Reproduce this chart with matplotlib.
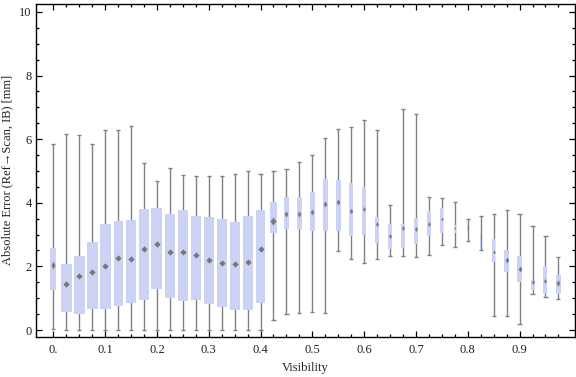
import matplotlib
matplotlib.use("Agg")
import matplotlib.pyplot as plt
import numpy as np

plt.rcParams['font.family'] = ['Liberation Serif', 'DejaVu Serif']

# visibility bins (bin start values)
visibility = [0.0, 0.025, 0.05, 0.075, 0.1, 0.125, 0.15, 0.175, 0.2, 0.225,
              0.25, 0.275, 0.3, 0.325, 0.35, 0.375, 0.4, 0.425, 0.45, 0.475,
              0.5, 0.525, 0.55, 0.575, 0.6, 0.625, 0.65, 0.675, 0.7, 0.725,
              0.75, 0.775, 0.8, 0.825, 0.85, 0.875, 0.9, 0.925, 0.95, 0.975]

# box-whisker statistics [mm]
whisker_hi = [5.84, 6.15, 6.12, 5.84, 6.28, 6.28, 6.40, 5.24, 4.67, 5.08,
              4.88, 4.83, 4.83, 4.85, 4.90, 4.99, 4.90, 4.99, 5.05, 5.28,
              5.49, 6.03, 6.31, 6.37, 6.59, 6.28, 3.92, 6.94, 6.78, 4.17,
              4.14, 4.03, 3.49, 3.57, 3.65, 3.77, 3.64, 3.26, 2.95, 2.30]
q3 = [2.58, 2.08, 2.33, 2.77, 3.33, 3.43, 3.46, 3.80, 3.83, 3.65,
      3.77, 3.58, 3.55, 3.49, 3.40, 3.58, 3.77, 4.03, 4.18, 4.18,
      4.34, 4.75, 4.72, 4.62, 4.50, 3.55, 3.33, 3.33, 3.52, 3.74,
      3.84, 3.30, 3.36, 3.06, 2.85, 2.52, 2.33, 1.56, 2.01, 1.73]
median = [2.04, 1.46, 1.69, 1.82, 2.01, 2.26, 2.24, 2.54, 2.69, 2.46,
          2.44, 2.35, 2.21, 2.11, 2.06, 2.15, 2.55, 3.42, 3.64, 3.64,
          3.70, 3.95, 4.01, 3.74, 3.82, 3.32, 2.96, 3.20, 3.18, 3.34,
          3.49, 3.20, 3.22, 2.93, 2.46, 2.21, 1.92, 1.51, 1.53, 1.47]
q1 = [1.27, 0.58, 0.51, 0.66, 0.66, 0.77, 0.86, 0.94, 1.29, 1.02,
      0.91, 0.94, 0.83, 0.73, 0.64, 0.64, 0.86, 3.06, 3.19, 3.19,
      3.12, 3.12, 3.10, 2.95, 2.99, 2.75, 2.56, 2.59, 2.71, 2.97,
      3.04, 3.06, 3.08, 2.51, 2.14, 1.82, 1.52, 1.27, 1.14, 1.14]
whisker_lo = [0.02, 0.0, 0.0, 0.0, 0.0, 0.0, 0.0, 0.0, 0.0, 0.0,
              0.0, 0.0, 0.0, 0.0, 0.0, 0.0, 0.0, 0.30, 0.50, 0.53,
              0.57, 0.53, 2.47, 2.22, 2.10, 2.22, 2.32, 2.32, 2.29, 2.35,
              2.66, 2.62, 2.81, 2.51, 0.45, 0.43, 0.18, 1.12, 1.03, 0.97]
# relative box width (fraction of bin spacing), grows with sample count
rel_width = [0.46, 0.85, 0.85, 0.85, 0.85, 0.70, 0.70, 0.77, 0.85, 0.77,
             0.77, 0.77, 0.77, 0.77, 0.77, 0.77, 0.70, 0.54, 0.39, 0.39,
             0.39, 0.39, 0.39, 0.35, 0.31, 0.31, 0.31, 0.31, 0.31, 0.31,
             0.23, 0.15, 0.08, 0.08, 0.25, 0.39, 0.39, 0.31, 0.31, 0.39]

step = 0.025
box_color = '#cbd2f4'
line_color = '#808080'

fig = plt.figure(figsize=(5.76, 3.77), dpi=100)
ax = fig.add_axes([36 / 576, 1 - 337 / 377, 539 / 576, 333 / 377])

x = np.array(visibility)
w = np.array(rel_width) * step
lo = np.array(whisker_lo)
hi = np.array(whisker_hi)

ax.vlines(x, lo, hi, color=line_color, lw=1.0, zorder=1)
ax.hlines(hi, x - 0.004, x + 0.004, color=line_color, lw=1.0, zorder=1)
ax.hlines(lo, x - 0.004, x + 0.004, color=line_color, lw=1.0, zorder=1)
ax.bar(x, np.array(q3) - np.array(q1), bottom=q1, width=w,
       color=box_color, edgecolor='none', zorder=2)

for xi, mi, ri in zip(x, median, rel_width):
    if ri >= 0.6:
        ax.plot(xi, mi, marker='D', ms=3.2, color='#777777', mec='none', zorder=3)
    else:
        ax.plot(xi, mi, marker='d', ms=max(1.5, ri * 8), color='#7a7a7a',
                mec='none', zorder=3)

ax.set_xlim(-0.0334, 1.007)
ax.set_ylim(-0.22, 10.25)

ax.set_xticks(np.arange(0, 10) / 10)
ax.set_xticklabels(['0.'] + ['%.1f' % v for v in np.arange(1, 10) / 10])
ax.set_xticks(x, minor=True)
ax.set_yticks([0, 2, 4, 6, 8, 10])
ax.set_yticks(np.arange(0, 10.5, 0.5), minor=True)

ax.tick_params(which='both', direction='in', top=True, right=True,
               width=0.9, colors='black', labelcolor='#222222', labelsize=9)
ax.tick_params(which='major', length=4.0)
ax.tick_params(which='minor', length=2.5)
ax.tick_params(axis='x', pad=5)
ax.tick_params(axis='y', pad=3)

for sp in ax.spines.values():
    sp.set_linewidth(1.0)
    sp.set_color('black')

fig.text(305 / 576, 1 - 368 / 377, 'Visibility', ha='center', va='center',
         fontsize=9, color='#222222')
fig.text(7 / 576, 1 - 170 / 377, 'Absolute Error (Ref\u2192Scan, IB) [mm]',
         ha='center', va='center', rotation=90, fontsize=9, color='#222222')

fig.savefig('out.png', dpi=100)
